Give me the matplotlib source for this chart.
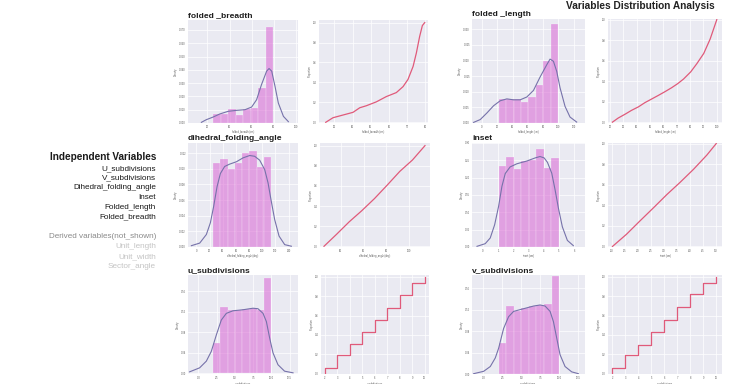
import numpy as np
import matplotlib
matplotlib.use('Agg')
import matplotlib.pyplot as plt
from matplotlib.ticker import FormatStrFormatter

plt.rcParams['font.family'] = ['Liberation Sans', 'DejaVu Sans']

# ---------------- data ----------------
breadth_edges = [25.2, 32.0, 38.8, 45.6, 52.4, 59.2, 66.0, 72.8, 79.6]
breadth_density = [0.0068, 0.0068, 0.0105, 0.0063, 0.0108, 0.0113, 0.026, 0.0725]
breadth_kde_x = [14.5, 19, 25.2, 31.2, 38.8, 46.4, 54, 60, 64.5, 69, 73.6, 75.8, 78.2, 81.2, 84.2, 88.8, 93.3]
breadth_kde_y = [0.0005, 0.0025, 0.0045, 0.0068, 0.0088, 0.0095, 0.01, 0.012, 0.0175, 0.029, 0.039, 0.041,
                 0.039, 0.0275, 0.015, 0.005, 0.001]
breadth_ecdf_x = [25.2, 29.2, 34.7, 40.2, 43.9, 47.5, 53.0, 58.5, 64.0, 67.7, 70.4, 73.2, 75.0, 76.8, 78.3, 79.6]
breadth_ecdf_y = [0, 0.046, 0.073, 0.10, 0.146, 0.166, 0.205, 0.258, 0.298, 0.358, 0.43, 0.56, 0.695, 0.86, 0.97, 1.0]

length_edges = [21.7, 31.5, 41.3, 51.0, 60.8, 70.6, 80.4, 90.2, 100.0]
length_density = [0.0078, 0.0078, 0.0078, 0.0066, 0.0083, 0.0121, 0.0199, 0.0317]
length_kde_x = [-10.9, -2.2, 6.5, 15.2, 23.9, 32.6, 41.3, 50, 58.7, 67.4, 76.1, 84.8, 89.1, 93.5, 97.8, 102.2,
                108.7, 115.2, 123.9]
length_kde_y = [0.0002, 0.0011, 0.0032, 0.0055, 0.0071, 0.0077, 0.0074, 0.0074, 0.0083, 0.0104, 0.0147, 0.0186,
                0.0204, 0.0197, 0.0165, 0.0112, 0.0053, 0.0019, 0.0003]
length_ecdf_x = [21.7, 26, 31.5, 36, 41.3, 46, 51, 56, 60.8, 66, 70.6, 75, 80.4, 85, 90.2, 95, 100]
length_ecdf_y = [0, 0.04, 0.08, 0.115, 0.15, 0.19, 0.225, 0.26, 0.295, 0.335, 0.375, 0.42, 0.49, 0.57, 0.67,
                 0.81, 1.0]

angle_edges = [25.3, 36.4, 47.5, 58.5, 69.6, 80.7, 91.8, 102.9, 113.9]
angle_density = [0.0108, 0.0112, 0.00996, 0.0108, 0.0120, 0.01234, 0.01017, 0.01157]
angle_kde_x = [-7.6, 5.1, 15.2, 21.3, 26.3, 31.4, 36.5, 43.0, 50.6, 60.8, 70.9, 81.0, 88.6, 96.2, 103.8, 108.9,
               113.9, 119, 125.6, 134.2, 144.3]
angle_kde_y = [0.00017, 0.0005, 0.0016, 0.0031, 0.0052, 0.0077, 0.0094, 0.0103, 0.0106, 0.0109, 0.0114, 0.0117,
               0.0116, 0.0111, 0.0099, 0.0082, 0.0058, 0.0035, 0.0014, 0.0003, 0.0001]
angle_ecdf_x = [25.3, 36.4, 47.5, 58.5, 69.6, 80.7, 91.8, 102.9, 113.9]
angle_ecdf_y = [0, 0.12, 0.244, 0.354, 0.474, 0.607, 0.744, 0.857, 1.0]

inset_edges = [1.03, 1.53, 2.03, 2.52, 3.02, 3.52, 4.02, 4.51, 5.01]
inset_density = [0.2327, 0.2596, 0.225, 0.2471, 0.25, 0.2837, 0.2279, 0.2567]
inset_kde_x = [-0.39, 0.15, 0.48, 0.77, 1.03, 1.25, 1.47, 1.79, 2.23, 2.89, 3.44, 3.76, 4.03, 4.25, 4.53, 4.75,
               4.97, 5.23, 5.56, 5.95]
inset_kde_y = [0.002, 0.0096, 0.026, 0.064, 0.117, 0.175, 0.212, 0.231, 0.240, 0.248, 0.257, 0.261, 0.257, 0.244,
               0.213, 0.165, 0.112, 0.058, 0.019, 0.004]
inset_ecdf_x = [1.03, 1.57, 2.08, 2.60, 3.11, 3.62, 4.14, 4.65, 5.01]
inset_ecdf_y = [0, 0.119, 0.247, 0.375, 0.503, 0.622, 0.75, 0.888, 1.0]

u_edges = [2, 3, 4, 5, 6, 7, 8, 9, 10]
u_density = [0.0593, 0.1303, 0.1238, 0.1238, 0.1245, 0.1271, 0.1238, 0.1864]
u_kde_x = [-1.2, 0.17, 1.09, 1.77, 2.46, 3.14, 3.83, 4.74, 6.11, 7.48, 8.16, 8.85, 9.31, 9.76, 10.22, 10.9,
           11.8, 12.96]
u_kde_y = [0.0032, 0.011, 0.024, 0.043, 0.075, 0.104, 0.117, 0.122, 0.124, 0.127, 0.126, 0.117, 0.101, 0.069,
           0.040, 0.017, 0.0045, 0.0013]
u_values = [2, 3, 4, 5, 6, 7, 8, 9, 10]
u_cdf = [0.056, 0.193, 0.311, 0.43, 0.557, 0.679, 0.81, 0.934, 1.0]

v_edges = [2, 3, 4, 5, 6, 7, 8, 9, 10]
v_density = [0.0577, 0.127, 0.118, 0.123, 0.127, 0.129, 0.130, 0.1835]
v_kde_x = [-1.30, 0.02, 0.90, 1.56, 2.0, 2.66, 3.32, 3.98, 5.30, 6.62, 7.49, 8.15, 8.81, 9.25, 9.69, 10.13,
           10.79, 11.67, 12.55]
v_kde_y = [0.0006, 0.005, 0.014, 0.030, 0.048, 0.085, 0.107, 0.117, 0.122, 0.127, 0.129, 0.127, 0.117, 0.098,
           0.067, 0.036, 0.014, 0.004, 0.0006]
v_values = [2, 3, 4, 5, 6, 7, 8, 9, 10]
v_cdf = [0.058, 0.194, 0.30, 0.426, 0.558, 0.687, 0.826, 0.942, 1.0]

independent_vars = ['U_subdivisions', 'V_subdivisions', 'Dihedral_folding_angle', 'Inset',
                    'Folded_length', 'Folded_breadth']
derived_vars = ['Unit_length', 'Unit_width', 'Sector_angle']

# ---------------- figure ----------------
W, H = 730, 384
fig = plt.figure(figsize=(W / 100, H / 100), dpi=100)
fig.patch.set_facecolor('white')

BAR_C = 'orchid'
KDE_C = '#7672aa'
ECDF_C = '#e05a7a'


def px_axes(x0, x1, y0, y1):
    return fig.add_axes([x0 / W, 1 - y1 / H, (x1 - x0) / W, (y1 - y0) / H])


def style(ax, xlim, ylim, xticks, yticks, xlabel, ylabel, yfmt):
    ax.set_facecolor('#eaeaf2')
    for s in ax.spines.values():
        s.set_visible(False)
    ax.set_xlim(xlim)
    ax.set_ylim(ylim)
    ax.set_xticks(xticks)
    ax.set_yticks(yticks)
    ax.yaxis.set_major_formatter(FormatStrFormatter(yfmt))
    ax.grid(True, color='white', lw=0.5)
    ax.set_axisbelow(True)
    ax.tick_params(length=0, labelsize=1.8, colors='#555555', pad=1.5)
    ax.set_xlabel(xlabel, fontsize=1.8, labelpad=1, color='#555555')
    ax.set_ylabel(ylabel, fontsize=1.8, labelpad=1, color='#555555')


def hist_panel(box, edges, dens, kx, ky, xlim, ylim, xticks, yticks, xlabel, yfmt, title):
    ax = px_axes(*box)
    e = np.asarray(edges)
    ax.bar(e[:-1], dens, width=np.diff(e), align='edge', color=BAR_C, alpha=0.6,
           edgecolor='white', linewidth=0.25)
    ax.plot(kx, ky, color=KDE_C, lw=0.8)
    style(ax, xlim, ylim, xticks, yticks, xlabel, 'Density', yfmt)
    ax.text(0, 1.01, title, transform=ax.transAxes, ha='left', va='bottom', fontsize=6.1,
            fontweight='bold', color='#1e1e1e')
    return ax


def ecdf_panel(box, x, y, xlim, ylim, xticks, xlabel, step=False):
    ax = px_axes(*box)
    if step:
        ax.step(np.r_[x[0], x], np.r_[0, y], where='post', color=ECDF_C, lw=0.9)
    else:
        ax.plot(x, y, color=ECDF_C, lw=0.9)
    style(ax, xlim, ylim, xticks, np.arange(0, 1.01, 0.2), xlabel, 'Proportion', '%.1f')
    return ax


# row 1
hist_panel((188, 298, 20, 123), breadth_edges, breadth_density, breadth_kde_x, breadth_kde_y,
           (2.4, 102), (0, 0.0775), [20, 40, 60, 80, 100], np.arange(0, 0.071, 0.01),
           'folded_breadth (cm)', '%.3f', 'folded _breadth')
ecdf_panel((319, 428, 20, 123), breadth_ecdf_x, breadth_ecdf_y, (21.5, 81.4), (-0.007, 1.026),
           [30, 40, 50, 60, 70, 80], 'folded_breadth (cm)')
hist_panel((472, 585, 19, 123), length_edges, length_density, length_kde_x, length_kde_y,
           (-13, 134.8), (0, 0.0332), [0, 20, 40, 60, 80, 100, 120], np.arange(0, 0.0301, 0.005),
           'folded_length (cm)', '%.3f', 'folded _length')
ecdf_panel((608, 722, 19, 123), length_ecdf_x, length_ecdf_y, (18.4, 103.9), (-0.008, 1.006),
           np.arange(20, 101, 10), 'folded_length (cm)')

# row 2
hist_panel((188, 298, 143, 247), angle_edges, angle_density, angle_kde_x, angle_kde_y,
           (-12.7, 154.4), (0, 0.0133), np.arange(0, 141, 20), np.arange(0, 0.0121, 0.002),
           'dihedral_folding_angle (deg)', '%.3f', 'dihedral_folding_angle')
ecdf_panel((320, 430, 143, 247), angle_ecdf_x, angle_ecdf_y, (21.8, 118.3), (-0.007, 1.026),
           [40, 60, 80, 100], 'dihedral_folding_angle (deg)')
hist_panel((472, 585, 143, 247), inset_edges, inset_density, inset_kde_x, inset_kde_y,
           (-0.72, 6.72), (0, 0.30), np.arange(0, 7, 1), np.arange(0, 0.301, 0.05),
           'inset (cm)', '%.2f', 'inset')
ecdf_panel((608, 722, 143, 247), inset_ecdf_x, inset_ecdf_y, (0.86, 5.23), (-0.005, 1.005),
           np.arange(1.0, 5.01, 0.5), 'inset (cm)')

# row 3
hist_panel((188, 298, 275, 374), u_edges, u_density, u_kde_x, u_kde_y,
           (-1.42, 13.64), (-0.001, 0.1916), np.arange(0, 12.6, 2.5), np.arange(0, 0.161, 0.04),
           'u_subdivisions', '%.2f', 'u_subdivisions')
ecdf_panel((321, 429, 275, 374), u_values, u_cdf, (1.7, 10.35), (-0.003, 1.02),
           np.arange(2, 11, 1), 'u_subdivisions', step=True)
hist_panel((472, 585, 275, 374), v_edges, v_density, v_kde_x, v_kde_y,
           (-1.52, 13.43), (0, 0.185), np.arange(0, 12.6, 2.5), np.arange(0, 0.161, 0.04),
           'v_subdivisions', '%.2f', 'v_subdivisions')
ecdf_panel((608, 722, 275, 374), v_values, v_cdf, (1.66, 10.44), (-0.003, 1.02),
           np.arange(2, 11, 1), 'v_subdivisions', step=True)

# ---------------- texts ----------------
fig.text(715 / W, 1 - 6 / H, 'Variables Distribution Analysis', ha='right', va='center',
         fontsize=7.3, fontweight='bold', color='#222222')

RX = 156 / W
fig.text(RX, 1 - 157.3 / H, 'Independent Variables', ha='right', va='center', fontsize=7.2,
         fontweight='bold', color='#1a1a1a')
for i, name in enumerate(independent_vars):
    fig.text(RX, 1 - (168.3 + 9.7 * i) / H, name, ha='right', va='center', fontsize=5.9,
             color='#1a1a1a')
fig.text(RX, 1 - 236.7 / H, 'Derived variables(not_shown)', ha='right', va='center',
         fontsize=5.9, color='#8a8a8a')
for i, name in enumerate(derived_vars):
    fig.text(RX, 1 - (246.6 + 9.7 * i) / H, name, ha='right', va='center', fontsize=5.9,
             color='#c4c4c4')

fig.savefig('out.png', dpi=100, facecolor='white')
